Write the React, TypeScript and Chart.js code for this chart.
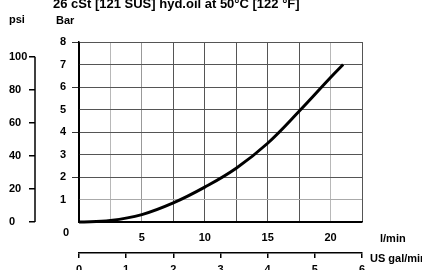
import React, { useEffect, useRef } from "react";
import { Chart, registerables } from "chart.js";

Chart.register(...registerables);

// ---- data ----
const flowLpm = [0, 2.5, 5, 7.5, 10, 12.5, 15, 17.5, 20, 21];
const pressureBar = [0, 0.07, 0.33, 0.85, 1.55, 2.39, 3.5, 4.92, 6.42, 7.0];
const lpmLabels = [5, 10, 15, 20];
const psiTicks = [0, 20, 40, 60, 80, 100];
const titleText = "26 cSt [121 SUS] hyd.oil at 50°C [122 °F]";
const psiTitle = "psi";
const barTitle = "Bar";
const originLabel = "0";
const lpmTitle = "l/min";
const galTitle = "US gal/min";

const FONT = '"Liberation Sans", Arial, Helvetica, sans-serif';
const tickFont = { family: FONT, size: 11, weight: "bold" as const };

const extrasPlugin = {
  id: "extras",
  afterDraw(chart: any) {
    const ctx = chart.ctx as CanvasRenderingContext2D;
    const area = chart.chartArea;
    const psi = chart.scales.psi;
    ctx.save();
    // psi axis line from 0 to 100
    ctx.strokeStyle = "#000";
    ctx.lineWidth = 1.5;
    ctx.beginPath();
    ctx.moveTo(psi.right, psi.getPixelForValue(0));
    ctx.lineTo(psi.right, psi.getPixelForValue(100));
    ctx.stroke();

    ctx.fillStyle = "#000";
    ctx.font = `bold 13px ${FONT}`;
    ctx.textAlign = "left";
    ctx.textBaseline = "alphabetic";
    ctx.fillText(titleText, area.left - 26, 8);

    ctx.font = `bold 11px ${FONT}`;
    ctx.textBaseline = "middle";
    ctx.fillText(psiTitle, psi.left, 20);
    ctx.fillText(barTitle, area.left - 23, 21);
    ctx.fillText(lpmTitle, area.right + 18, area.bottom + 17);
    ctx.fillText(galTitle, area.right + 8, area.bottom + 37);
    ctx.textAlign = "center";
    ctx.fillText(originLabel, area.left - 13, area.bottom + 11);
    ctx.restore();
  },
};

export default function App() {
  const ref = useRef<HTMLCanvasElement>(null);
  useEffect(() => {
    const chart = new Chart(ref.current as HTMLCanvasElement, {
      type: "line",
      data: {
        datasets: [
          {
            data: flowLpm.map((x, i) => ({ x, y: pressureBar[i] })),
            borderColor: "#000",
            borderWidth: 3,
            pointRadius: 0,
            tension: 0.4,
            fill: false,
            clip: false as any,
            xAxisID: "x",
            yAxisID: "y",
          },
        ],
      },
      options: {
        animation: false,
        responsive: false,
        devicePixelRatio: 1,
        layout: { padding: { left: 9, right: 60, top: 42, bottom: 0 } },
        plugins: {
          legend: { display: false },
          tooltip: { enabled: false },
          title: { display: false },
        },
        scales: {
          x: {
            type: "linear",
            position: "bottom",
            weight: 0,
            min: 0,
            max: 22.5,
            ticks: {
              stepSize: 2.5,
              autoSkip: false,
              maxRotation: 0,
              padding: 9,
              color: "#000",
              font: tickFont,
              callback: (v: any) => (lpmLabels.includes(Number(v)) ? String(v) : ""),
            },
            grid: {
              drawTicks: false,
              lineWidth: 1,
              color: (c: any) => {
                const v = c.tick ? c.tick.value : -1;
                if (v === 0) return "#000";
                if (v === 2.5 || v === 20) return "#b8b8b8";
                if (v === 5) return "#999";
                return "#555";
              },
            },
            border: { color: "#000", width: 1.5 },
            afterFit: (s: any) => {
              s.height = 31;
            },
          },
          gal: {
            type: "linear",
            position: "bottom",
            weight: 1,
            min: 0,
            max: 6,
            ticks: {
              stepSize: 1,
              autoSkip: false,
              maxRotation: 0,
              padding: 5,
              color: "#000",
              font: tickFont,
            },
            grid: {
              drawOnChartArea: false,
              drawTicks: true,
              tickLength: 5,
              color: "#000",
              lineWidth: 1.5,
            },
            border: { color: "#000", width: 1.5 },
            afterFit: (s: any) => {
              s.height = 17;
            },
          },
          y: {
            type: "linear",
            position: "left",
            weight: 0,
            min: 0,
            max: 8,
            ticks: {
              stepSize: 1,
              padding: 6,
              color: "#000",
              font: tickFont,
              callback: (v: any) => (Number(v) === 0 ? "" : String(v)),
            },
            grid: {
              tickLength: 7,
              lineWidth: 1,
              color: (c: any) => {
                const v = c.tick ? c.tick.value : -1;
                if (v === 0) return "#000";
                if (v === 1) return "#aaa";
                return "#555";
              },
              tickColor: (c: any) => {
                const v = c.tick ? c.tick.value : -1;
                return v > 0 && v % 2 === 0 ? "#333" : "rgba(0,0,0,0)";
              },
            },
            border: { color: "#000", width: 1.5 },
            afterFit: (s: any) => {
              s.width = 44;
            },
          },
          psi: {
            type: "linear",
            position: "left",
            weight: 1,
            min: 0,
            max: 109,
            afterBuildTicks: (ax: any) => {
              ax.ticks = psiTicks.map((value) => ({ value }));
            },
            ticks: {
              crossAlign: "far",
              padding: 1,
              color: "#000",
              font: tickFont,
            },
            grid: {
              drawOnChartArea: false,
              tickLength: 6,
              color: "#000",
              lineWidth: 1.5,
            },
            border: { display: false },
            afterFit: (s: any) => {
              s.width = 26;
            },
          },
        },
      } as any,
      plugins: [extrasPlugin],
    });
    return () => chart.destroy();
  }, []);

  return (
    <div style={{ position: "fixed", left: 0, top: 0, width: 422, height: 270, background: "#fff" }}>
      <canvas ref={ref} width={422} height={270} style={{ display: "block", width: 422, height: 270 }} />
    </div>
  );
}
